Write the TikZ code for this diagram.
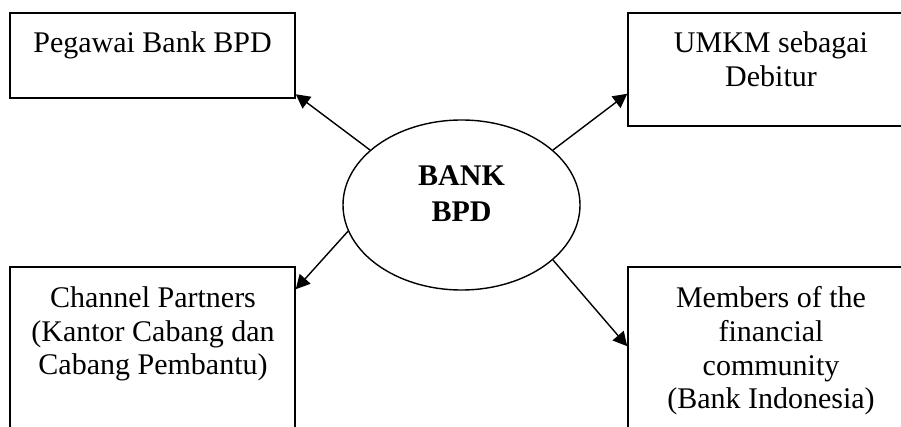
\documentclass[tikz,border=0pt]{standalone}
\usepackage{fontspec}
\setmainfont{Liberation Serif}
\usetikzlibrary{arrows.meta,shapes.geometric}
\tikzset{
  boxnode/.style={draw=black, line width=1.6pt, rectangle, minimum width=285pt, inner sep=0pt},
  txt/.style={anchor=north, align=center, inner sep=0pt, font=\fontsize{30}{33.7}\selectfont},
  bold/.style={anchor=north, align=center, inner sep=0pt, font=\fontsize{30}{36}\selectfont\bfseries},
  conn/.style={line width=1.4pt, -{Triangle[length=14pt,width=14.5pt]}},
}
\begin{document}
\begin{tikzpicture}[x=1pt,y=-1pt]
\useasboundingbox (0,0) rectangle (901,427);
\fill[white] (0,0) rectangle (901,427);
\clip (0,0) rectangle (901,427);
% boxes
\node[boxnode, minimum height=85pt] (tl) at (152.5,55.5) {};
\node[boxnode, minimum height=113pt] (tr) at (770.5,69.5) {};
\node[boxnode, minimum height=193pt] (bl) at (152.5,363.5) {};
\node[boxnode, minimum height=193pt] (br) at (770.5,363.5) {};
% texts
\node[txt] (tltext) at (152.5,31.5) {Pegawai Bank BPD};
\node[txt] (trtext) at (771,31.5) {UMKM sebagai\\Debitur};
\node[txt] (bltext) at (153,286.5) {Channel Partners\\(Kantor Cabang dan\\Cabang Pembantu)};
\node[txt] (brtext) at (771,286.5) {Members of the\\financial\\community\\(Bank Indonesia)};
% centre
\node[draw=black, line width=1.4pt, ellipse, minimum width=237pt, minimum height=170pt, inner sep=0pt] (bank) at (461.5,205) {};
\node[bold] (banktext) at (461.5,165.7) {BANK\\BPD};
% connectors
\draw[conn] (bank.149) -- ([yshift=4.5pt]tl.south east);
\draw[conn] (bank.31) -- ([yshift=33pt]tr.south west);
\draw[conn] (bank.193) -- ([yshift=-23pt]bl.north east);
\draw[conn] (bank.329) -- ([yshift=-80pt]br.north west);
\end{tikzpicture}
\end{document}
